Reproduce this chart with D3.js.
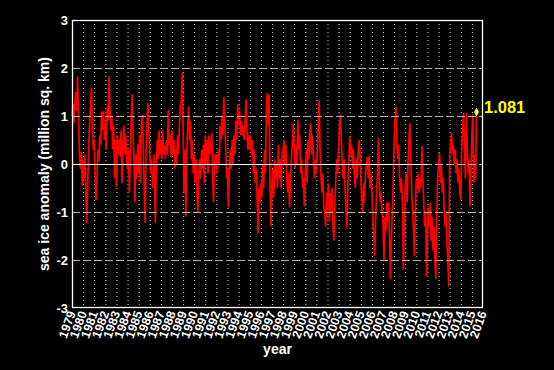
<!DOCTYPE html>
<html>
<head>
<meta charset="utf-8">
<script src="https://cdn.jsdelivr.net/npm/d3@7"></script>
<style>
  html, body { margin: 0; padding: 0; background: #000; }
  svg { display: block; }
  text { font-family: "Liberation Sans", Arial, Helvetica, sans-serif; font-weight: bold; fill: #fff; }
</style>
</head>
<body>
<svg id="chart"></svg>
<script>
// Sea ice extent anomaly, monthly values (million sq. km)

const width = 554;
const height = 370;

const startYear = 1979;
const yTicks = [-3, -2, -1, 0, 1, 2, 3];
const yearLabels = ["1979", "1980", "1981", "1982", "1983", "1984", "1985", "1986", "1987",
  "1988", "1989", "1990", "1991", "1992", "1993", "1994", "1995", "1996", "1997", "1998",
  "1999", "2000", "2001", "2002", "2003", "2004", "2005", "2006", "2007", "2008", "2009",
  "2010", "2011", "2012", "2013", "2014", "2015", "2016"];
const lastLabel = "1.081";

// one row per year, Jan..Dec
const ice1979to1988 = [
  [1.0, 1.25, 0.85, 1.2, 1.5, 1.1, 1.83, 1.0, 0.2, -0.1, 0.25, -0.45],
  [0.1, -0.3, 0.2, -0.7, -1.23, -0.4, 0.3, 0.8, 1.2, 1.6, 0.7, 0.3],
  [0.5, -0.2, -0.75, -0.3, 0.3, 0.05, 0.6, 0.4, 1.1, 0.7, 1.1, 0.5],
  [0.8, 0.3, 1.2, 0.9, 1.83, 1.1, 0.7, 1.0, 0.3, 0.8, -0.3, 0.5],
  [-0.47, 0.6, 0.2, 0.5, 0.15, 0.7, -0.4, 0.4, 0.8, 0.2, 0.6, 0.1],
  [-0.1, 0.3, -0.6, 0.2, 0.9, 1.45, 0.6, 0.1, -0.8, 0.2, -0.3, 0.4],
  [-0.2, 0.6, -0.4, 0.8, 1.03, 0.4, -0.5, -1.23, 0.3, 0.7, 1.27, 0.8],
  [0.2, -0.2, 0.1, -0.5, -0.3, 0.2, -1.23, -0.2, 0.5, 0.1, 0.7, 0.2],
  [0.5, 0.1, 0.7, 0.2, 0.4, 0.1, 0.5, 0.2, 1.13, 0.4, 0.6, 0.15],
  [0.7, 0.2, 0.5, -0.1, 0.3, 0.0, 0.6, 0.2, 0.8, 1.2, 1.3, 1.9],
];
const ice1989to1998 = [
  [0.9, -0.6, 0.3, -1.1, 0.2, 0.8, 1.2, 0.5, 0.9, 0.1, 0.5, -0.2],
  [0.2, -0.4, 0.1, -0.6, -1.0, -0.2, 0.1, -0.3, 0.3, -0.1, 0.4, -0.4],
  [0.6, 0.0, 0.5, -0.2, 0.6, 0.2, 0.4, 0.65, -0.3, -0.8, 0.2, -0.1],
  [0.2, -0.2, 0.3, 0.0, 0.8, 0.5, 1.0, 0.6, 1.4, 0.9, 0.4, -0.3],
  [-0.1, -0.9, -0.2, 0.3, -0.1, 0.5, 0.0, 0.6, 0.2, 0.9, 0.5, 1.25],
  [0.8, 1.1, 0.6, 0.9, 0.6, 0.8, 0.5, 0.9, 1.35, 0.7, 0.3, 0.6],
  [0.3, 0.6, 0.2, 0.5, -0.2, 0.3, -0.4, -0.1, -0.7, -1.44, -0.5, -0.8],
  [-0.4, -0.7, 0.0, -0.5, 0.3, -0.2, 1.2, 1.48, 0.8, 1.45, -0.6, -1.3],
  [-0.4, -0.1, -0.7, 0.1, -0.3, 0.0, -0.5, 0.4, -0.3, 0.1, -0.5, 0.2],
  [0.3, 0.5, 0.0, 0.4, -0.3, -0.6, -0.2, -0.9, -0.4, 0.1, 0.4, 0.85],
];
const ice1999to2008 = [
  [0.3, -0.1, 0.4, 0.0, 0.92, 0.3, 0.6, -0.2, 0.1, -0.5, -0.3, -0.88],
  [-0.2, 0.3, -0.4, 0.5, 0.1, 0.7, 0.85, 0.2, 0.6, 0.0, -0.3, 0.1],
  [-0.2, 0.3, 0.8, 1.34, 0.3, -0.3, -0.6, -0.2, -0.9, -1.0, -1.3, -0.6],
  [-0.9, -0.4, -1.2, -0.6, -1.0, -0.5, -1.3, -1.6, -0.8, -0.3, 0.1, -0.2],
  [0.4, 0.8, 1.03, 0.5, 0.0, -0.3, 0.1, -0.5, -1.0, -1.33, -0.4, 0.0],
  [0.57, 0.2, 0.4, -0.1, 0.3, -0.2, -0.5, 0.1, -0.3, 0.2, 0.5, 0.2],
  [-0.3, -0.7, -1.0, -0.4, -0.8, -0.2, 0.0, 0.15, -0.3, 0.16, -0.5, -0.2],
  [-0.6, -1.1, -1.5, -1.92, -1.2, -0.6, -0.2, 0.55, -0.4, -0.8, -0.6, -1.0],
  [-1.2, -2.0, -1.1, -1.4, -0.8, -1.2, -0.8, -1.5, -2.4, -1.6, -1.0, -0.4],
  [0.5, 0.9, 1.2, 0.4, 0.1, 0.4, -0.3, -0.6, -0.3, -0.8, -2.2, -1.2],
];
const ice2009to2015 = [
  [-0.5, -0.2, -0.8, 0.0, 0.5, 0.85, 0.2, -0.6, -1.0, -1.4, -1.92, -0.9],
  [-0.3, -0.5, -0.2, -0.6, -0.3, -0.5, 0.37, -0.2, -0.8, -1.3, -1.0, -2.34],
  [-1.5, -0.9, -1.3, -0.8, -1.6, -1.1, -1.8, -1.3, -2.0, -2.4, -1.2, -0.3],
  [0.0, 0.23, -0.4, 0.0, -0.6, -0.3, -0.9, -1.3, -1.0, -1.6, -2.0, -2.55],
  [0.2, 0.4, 0.65, 0.2, 0.4, 0.0, 0.3, -0.2, 0.1, -0.4, -0.1, -0.6],
  [-0.75, 0.3, 0.7, 1.06, 0.4, -0.3, 1.06, 0.3, -0.2, 0.1, -0.88, -0.2],
  [0.6, 1.03, -0.4, 0.2, -0.3, 1.081],
];

const margin = { top: 20, right: 71, bottom: 62, left: 72 };

const values = [].concat(...ice1979to1988, ...ice1989to1998, ...ice1999to2008, ...ice2009to2015);
const data = values.map((v, i) => ({ t: startYear + i / 12, v: v }));
const last = data[data.length - 1];

const xScale = d3
  .scaleLinear()
  .domain([+yearLabels[0], +yearLabels[yearLabels.length - 1]])
  .range([margin.left, width - margin.right]);

const yScale = d3
  .scaleLinear()
  .domain([-3, 3])
  .range([height - margin.bottom, margin.top]);

const svg = d3.select("#chart").attr("width", width).attr("height", height);

svg.append("rect").attr("width", width).attr("height", height).attr("fill", "#000");

// vertical dotted year lines
svg
  .append("g")
  .selectAll("line")
  .data(yearLabels.slice(1, -1))
  .enter()
  .append("line")
  .attr("x1", (d) => xScale(+d) + 0.5)
  .attr("x2", (d) => xScale(+d) + 0.5)
  .attr("y1", margin.top)
  .attr("y2", height - margin.bottom)
  .attr("stroke", "#d8d8d8")
  .attr("stroke-width", 1)
  .attr("stroke-dasharray", "1,3");

const line = d3
  .line()
  .x((d) => xScale(d.t))
  .y((d) => yScale(d.v));

svg
  .append("path")
  .datum(data)
  .attr("fill", "none")
  .attr("stroke", "#ff0000")
  .attr("stroke-width", 1.7)
  .attr("stroke-linejoin", "miter")
  .attr("d", line);

// dashed horizontal grid
svg
  .append("g")
  .selectAll("line")
  .data(yTicks.filter((d) => d !== 3 && d !== -3))
  .enter()
  .append("line")
  .attr("x1", margin.left)
  .attr("x2", width - margin.right)
  .attr("y1", (d) => Math.round(yScale(d)) + 0.5)
  .attr("y2", (d) => Math.round(yScale(d)) + 0.5)
  .attr("stroke", "#c4acac")
  .attr("stroke-width", 1)
  .attr("stroke-dasharray", "8,3");

// zero line
svg
  .append("line")
  .attr("x1", margin.left)
  .attr("x2", xScale(2011))
  .attr("y1", Math.round(yScale(0)) + 0.5)
  .attr("y2", Math.round(yScale(0)) + 0.5)
  .attr("stroke", "#fff")
  .attr("stroke-width", 1.2);

// frame
svg
  .append("rect")
  .attr("x", margin.left + 0.5)
  .attr("y", margin.top + 0.5)
  .attr("width", width - margin.left - margin.right - 1)
  .attr("height", height - margin.top - margin.bottom - 1)
  .attr("fill", "none")
  .attr("stroke", "#fff")
  .attr("stroke-width", 1.3);

// y tick labels
svg
  .append("g")
  .selectAll("text")
  .data(yTicks)
  .enter()
  .append("text")
  .attr("x", margin.left - 4)
  .attr("y", (d) => yScale(d))
  .attr("dy", "0.36em")
  .attr("text-anchor", "end")
  .style("font-size", "13px")
  .text((d) => d);

// x tick labels, rotated
svg
  .append("g")
  .selectAll("text")
  .data(yearLabels)
  .enter()
  .append("text")
  .attr("text-anchor", "end")
  .attr("transform", (d) => "translate(" + (xScale(+d) + 4) + "," + (height - margin.bottom + 5) + ") rotate(-70)")
  .style("font-size", "12.5px")
  .text((d) => d);

svg
  .append("text")
  .attr("x", (margin.left + width - margin.right) / 2)
  .attr("y", 354)
  .attr("text-anchor", "middle")
  .style("font-size", "14px")
  .text("year");

svg
  .append("text")
  .attr("transform", "translate(49," + yScale(0) + ") rotate(-90)")
  .attr("text-anchor", "middle")
  .style("font-size", "14px")
  .text("sea ice anomaly (million sq. km)");

// latest value marker
svg
  .append("path")
  .attr("d", d3.symbol().type(d3.symbolDiamond).size(22))
  .attr("transform", "translate(" + xScale(last.t) + "," + yScale(last.v) + ")")
  .attr("fill", "#ffff00");

svg
  .append("text")
  .attr("x", width - margin.right + 1)
  .attr("y", yScale(last.v) + 0.5)
  .style("font-size", "16.5px")
  .style("fill", "#ffff00")
  .text(lastLabel);
</script>
</body>
</html>
